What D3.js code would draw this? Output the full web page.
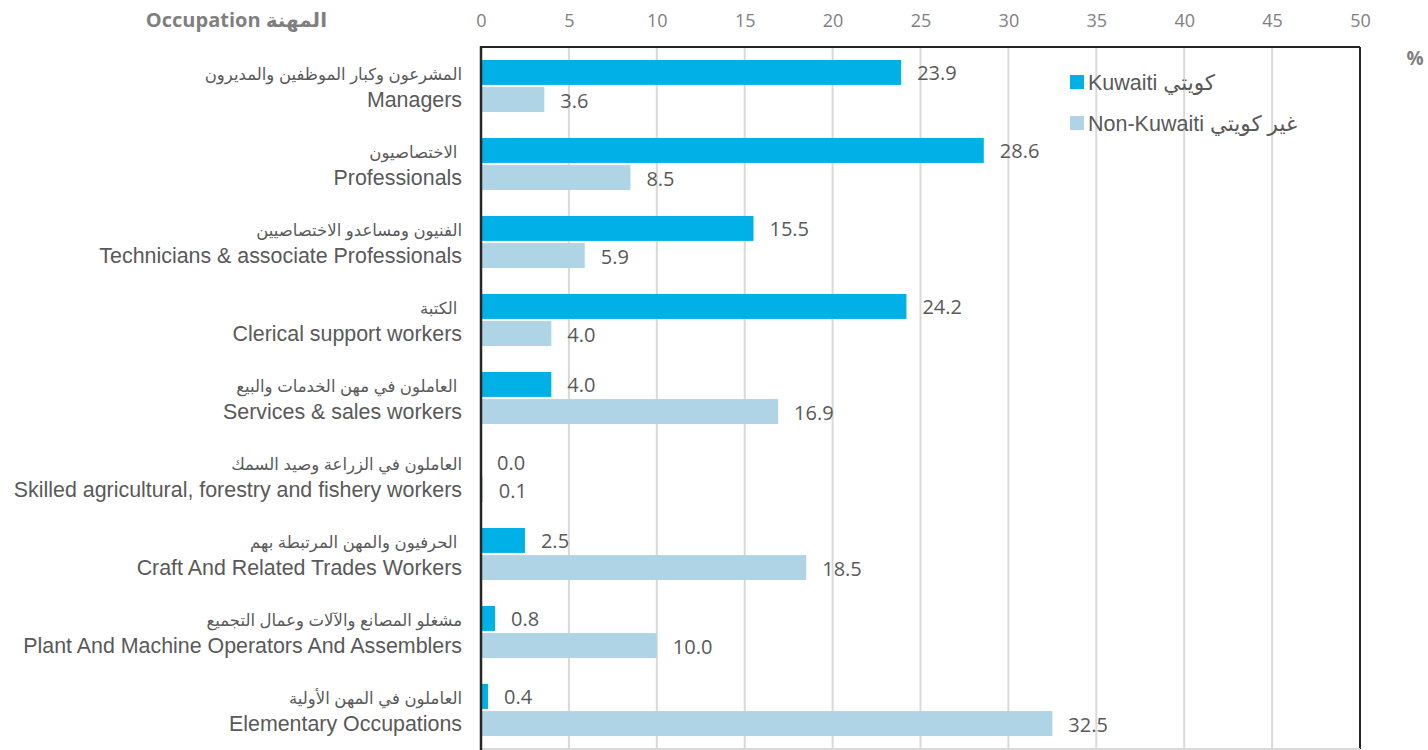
<!DOCTYPE html>
<html>
<head>
<meta charset="utf-8">
<script src="https://cdn.jsdelivr.net/npm/d3@7"></script>
<style>
  body{margin:0;background:#ffffff;}
  svg{display:block;}
</style>
</head>
<body>
<svg id="grafica" width="1428" height="750"></svg>
<script>

var ocupacionesAr=["المشرعون وكبار الموظفين والمديرون","الاختصاصيون ","الفنيون ومساعدو الاختصاصيين","الكتبة ","العاملون في مهن الخدمات والبيع ","العاملون في الزراعة وصيد السمك","الحرفيون والمهن المرتبطة بهم ","مشغلو المصانع والآلات وعمال التجميع","العاملون في المهن الأولية"];

var ocupacionesEn=["Managers","Professionals","Technicians & associate Professionals","Clerical support workers","Services & sales workers","Skilled agricultural, forestry and fishery workers","Craft And Related Trades Workers","Plant And Machine Operators And Assemblers","Elementary Occupations"];

var kuwaiti=[23.9,28.6,15.5,24.2,4.0,0.0,2.5,0.8,0.4];

var noKuwaiti=[3.6,8.5,5.9,4.0,16.9,0.1,18.5,10.0,32.5];

var series=["Kuwaiti","NonKuwaiti"];

var leyenda=["Kuwaiti كويتي","Non-Kuwaiti غير كويتي"];

var ticks=[0,5,10,15,20,25,30,35,40,45,50];

var colores={Kuwaiti:"#00B0E6",NonKuwaiti:"#AFD4E6"};


var svg=d3.select("#grafica");

var izq=481, der=1360, arriba=47, abajo=749;

var x=d3.scaleLinear().domain([0,50]).range([izq,der]);

var y=d3.scaleBand().domain(d3.range(ocupacionesEn.length)).range([arriba,abajo]).paddingInner(0).paddingOuter(0);

var ySub=d3.scaleBand().domain(series).range([13,y.bandwidth()-13]).paddingInner(0.08);


// lineas de la rejilla
svg.selectAll(".rejilla").data(ticks.slice(1,ticks.length-1)).enter().append("line")
      .attr("class","rejilla")
      .attr("x1",function(d){return x(d);})
      .attr("x2",function(d){return x(d);})
      .attr("y1",arriba)
      .attr("y2",abajo)
      .style("stroke","#d9d9d9")
      .style("stroke-width",2);


// eje superior
var eje=svg.append("g")
      .attr("transform","translate(0,27)")
      .call(d3.axisTop(x).tickValues(ticks).tickSize(0).tickPadding(0));

eje.select(".domain").remove();

eje.selectAll("text")
      .style("font-family","'Open Sans', sans-serif")
      .style("font-size","18px")
      .style("fill","#808080");


// barras
var grupos=svg.selectAll(".grupo").data(ocupacionesEn).enter().append("g")
      .attr("class","grupo")
      .attr("transform",function(d,i){return "translate(0,"+y(i)+")";});

grupos.each(function(d,i){

      var g=d3.select(this);

      var valores=[{s:"Kuwaiti",v:kuwaiti[i]},{s:"NonKuwaiti",v:noKuwaiti[i]}];

      g.selectAll("rect").data(valores).enter().append("rect")
            .attr("x",x(0))
            .attr("y",function(e){return ySub(e.s);})
            .attr("width",function(e){return x(e.v)-x(0);})
            .attr("height",ySub.bandwidth())
            .style("fill",function(e){return colores[e.s];});

      g.selectAll(".valor").data(valores).enter().append("text")
            .attr("class","valor")
            .attr("x",function(e){return x(e.v)+16;})
            .attr("y",function(e){return ySub(e.s)+ySub.bandwidth()/2+1;})
            .attr("dy","0.35em")
            .style("font-family","'Open Sans', sans-serif")
            .style("font-size","20px")
            .style("fill","#595959")
            .text(function(e){return e.v.toFixed(1);});

      g.append("text")
            .attr("x",462)
            .attr("y",y.bandwidth()/2-12)
            .attr("dy","0.35em")
            .attr("text-anchor","end")
            .style("font-family","'Liberation Sans', Arial, 'DejaVu Sans', sans-serif")
            .style("font-size","16.5px")
            .style("fill","#595959")
            .style("white-space","pre")
            .text(ocupacionesAr[i]);

      g.append("text")
            .attr("x",462)
            .attr("y",y.bandwidth()/2+14)
            .attr("dy","0.35em")
            .attr("text-anchor","end")
            .style("font-family","'Liberation Sans', Arial, sans-serif")
            .style("font-size","21.4px")
            .style("fill","#595959")
            .text(d);

});


// marco
svg.append("line").attr("x1",izq).attr("x2",der).attr("y1",arriba).attr("y2",arriba)
      .style("stroke","#262626").style("stroke-width",2);
svg.append("line").attr("x1",der).attr("x2",der).attr("y1",arriba).attr("y2",abajo)
      .style("stroke","#262626").style("stroke-width",2);
svg.append("line").attr("x1",izq).attr("x2",der).attr("y1",abajo).attr("y2",abajo)
      .style("stroke","#d9d9d9").style("stroke-width",2);
svg.append("line").attr("x1",izq).attr("x2",izq).attr("y1",arriba-1).attr("y2",abajo+1)
      .style("stroke","#262626").style("stroke-width",2.5);


// titulo de las ocupaciones
svg.append("text")
      .attr("x",327)
      .attr("y",20)
      .attr("dy","0.35em")
      .attr("text-anchor","end")
      .style("font-family","'Open Sans', 'DejaVu Sans', sans-serif")
      .style("font-weight","bold")
      .style("font-size","20px")
      .style("fill","#7f7f7f")
      .text("Occupation المهنة");

svg.append("text")
      .attr("x",1415)
      .attr("y",58)
      .attr("dy","0.35em")
      .attr("text-anchor","middle")
      .style("font-family","'Open Sans', sans-serif")
      .style("font-weight","bold")
      .style("font-size","19px")
      .style("fill","#7f7f7f")
      .text("%");


// leyenda
var ley=svg.selectAll(".leyenda").data(series).enter().append("g")
      .attr("class","leyenda")
      .attr("transform",function(d,i){return "translate(1070,"+(82+i*41)+")";});

ley.append("rect")
      .attr("x",0)
      .attr("y",-7)
      .attr("width",14)
      .attr("height",14)
      .style("fill",function(d){return colores[d];});

ley.append("text")
      .attr("x",18)
      .attr("y",0)
      .attr("dy","0.35em")
      .style("font-family","'Liberation Sans', Arial, 'DejaVu Sans', sans-serif")
      .style("font-size","21.5px")
      .style("fill","#595959")
      .text(function(d,i){return leyenda[i];});

</script>
</body>
</html>
